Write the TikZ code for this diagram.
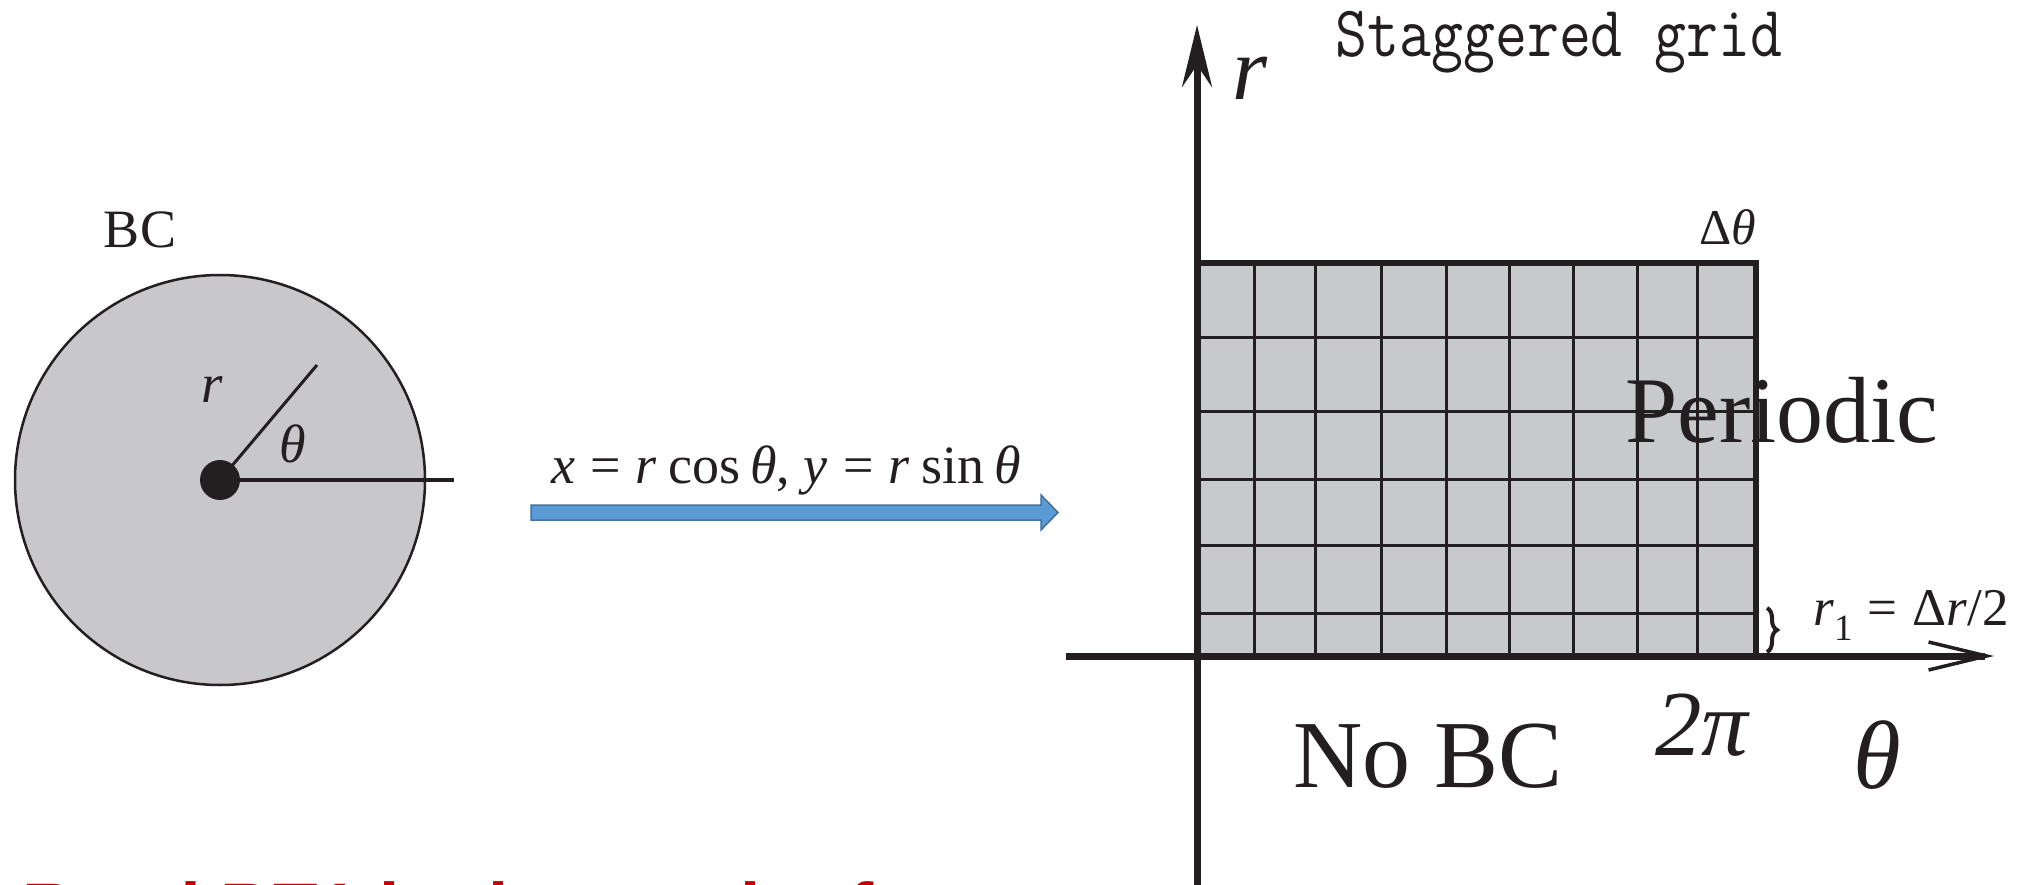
\documentclass[tikz,border=0pt]{standalone}
\usepackage{fontspec}
\setmainfont{Liberation Serif}
\newfontfamily\redfont{Liberation Sans}
\usetikzlibrary{arrows.meta,decorations.pathreplacing}
\definecolor{ink}{HTML}{231F20}
\definecolor{diskgray}{HTML}{C8C8CA}
\definecolor{gridgray}{HTML}{C8C9CB}
\definecolor{arrowblue}{HTML}{5B9BD5}
\definecolor{arrowedge}{HTML}{41719C}
\definecolor{redtext}{HTML}{C00000}
\newcommand{\fs}[1]{\fontsize{#1}{#1}\selectfont}
\newcommand{\eqs}{\hspace{0.28em}=\hspace{0.28em}}
\begin{document}
\begin{tikzpicture}[x=1pt,y=-1pt,
  lbl/.style={inner sep=0pt, outer sep=0pt, anchor=base, text=ink},
  gridline/.style={draw=ink, line width=3pt},
  border/.style={draw=ink, line width=6pt, line join=miter},
  axisline/.style={draw=ink, line width=7pt}]
\clip (0,0) rectangle (2044,885);
\useasboundingbox (0,0) rectangle (2044,885);
\fill[white] (0,0) rectangle (2044,885);

% ---- disk ----
\node[circle, draw=ink, fill=diskgray, line width=2.5pt, minimum size=410pt, inner sep=0pt] (disk) at (220,480) {};
\coordinate (rtip) at (317,365);
\coordinate (ray) at (454,480);
\draw[ink, line width=3pt] (220,480) -- (rtip);
\draw[ink, line width=4.5pt] (220,480) -- (ray);
\node[circle, fill=ink, minimum size=40pt, inner sep=0pt] (origin) at (220,480) {};
\node[lbl] (bc) at (140,248) {\fs{54}BC};
\node[lbl] (rdisk) at (212,402) {\fs{55}\textit{r}};
\node[lbl] (tdisk) at (293,462) {\fs{54}\textit{θ}};

% ---- mapping arrow ----
\draw[fill=arrowblue, draw=arrowedge, line width=1.5pt]
  (531,505) -- (1041,505) -- (1041,495) -- (1058,512.5) -- (1041,530) -- (1041,520) -- (531,520) -- cycle;
\node[lbl] (map) at (786,483) {\fs{54}\textit{x}\eqs\textit{r}\hspace{0.22em}cos\hspace{0.18em}\textit{θ}, \textit{y}\eqs\textit{r}\hspace{0.22em}sin\hspace{0.18em}\textit{θ}};

% ---- grid ----
\fill[gridgray] (1197,263) rectangle (1756,655);
\foreach \gx in {1254,1315,1381,1446,1509,1573,1637,1697}
  \draw[gridline] (\gx,263) -- (\gx,655);
\foreach \gy in {337,411,479,545,613}
  \draw[gridline] (1197,\gy) -- (1756,\gy);
\draw[border] (1197,263) -- (1756,263) -- (1756,656);

% ---- axes ----
\coordinate (hstart) at (1066,656);
\coordinate (hend) at (1994,656);
\coordinate (vstart) at (1197,900);
\coordinate (vend) at (1197,25);
\draw[axisline, -{Straight Barb[length=58pt,width=28pt,line width=3.5pt]}] (hstart) -- (hend);
\draw[axisline, -{Stealth[length=62pt,width=30pt,inset=22pt]}] (vstart) -- (vend);

% ---- labels ----
\node[lbl] (raxis) at (1250,100) {\fs{90}\textit{r}};
\node[lbl] (title) at (1559,57) {\scalebox{1}[1.17]{\ttfamily\fs{62}Staggered grid}};
\node[lbl] (dtheta) at (1728,245) {\fs{50}Δ\textit{θ}};
\node[lbl] (periodic) at (1782,442) {\fs{94}Periodic};
\node[lbl] (nobc) at (1428,787) {\fs{96}No BC};
\node[lbl] (twopi) at (1703,755) {\fs{93}\textit{2π}};
\node[lbl] (theta) at (1877,788) {\fs{97}\textit{θ}};
\node[lbl] (rone) at (1911,625) {\fs{53}\textit{r}\textsubscript{1}\eqs Δ\textit{r}/2};
\draw[ink, line width=4pt, decorate, decoration={brace, amplitude=10pt}] (1767,608) -- (1767,652);

% ---- clipped red note (cut off by the lower edge, as in the reference) ----
\node[anchor=base west, inner sep=0pt, text=redtext] (note) at (22,934) {\redfont\bfseries\fs{73}Read BT1 in the mesh of};
\end{tikzpicture}
\end{document}
